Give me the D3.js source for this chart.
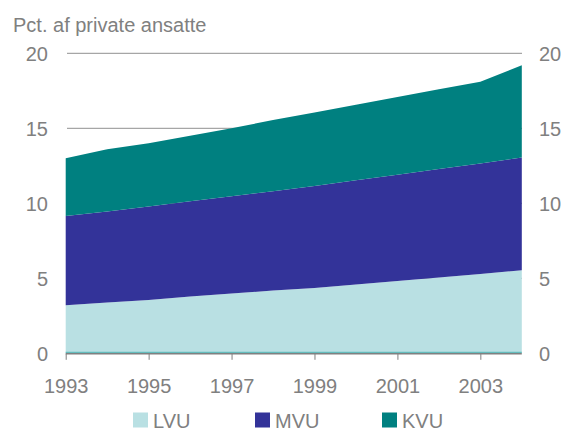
<!DOCTYPE html>
<html><head><meta charset="utf-8">
<script src="https://cdn.jsdelivr.net/npm/d3@7/dist/d3.min.js"></script>
<style>body{margin:0;background:#fff}svg{display:block;font-family:"Liberation Sans",Arial,sans-serif}</style>
</head><body>
<svg id="c" width="563" height="432"></svg>
<script>
const years = [1993,1994,1995,1996,1997,1998,1999,2000,2001,2002,2003,2004];
const LVU = [3.2,3.38,3.55,3.78,3.98,4.18,4.35,4.59,4.82,5.05,5.29,5.53];
const MVU = [5.95,6.07,6.23,6.35,6.49,6.62,6.8,6.94,7.08,7.23,7.36,7.52];
const KVU = [3.85,4.15,4.22,4.37,4.53,4.75,4.9,5.04,5.18,5.32,5.45,6.15];
const seriesNames = ["LVU","MVU","KVU"];
const colors = ["#b9e0e3","#333399","#008080"];
const yTicks = [0,5,10,15,20];
const xTickYears = [1993,1995,1997,1999,2001,2003];
const title = "Pct. af private ansatte";

const svg = d3.select("#c");
const x = d3.scaleLinear().domain([1993,2004]).range([65.7,521.8]);
const y = d3.scaleLinear().domain([0,20]).range([353.3,53.3]);
const grey = "#808080";

svg.append("text").attr("x",13).attr("y",31.5).attr("fill",grey).attr("font-size",20).text(title);

// gridlines
svg.append("g").selectAll("line").data(yTicks.filter(d=>d>0)).join("line")
  .attr("x1",67).attr("x2",522).attr("y1",d=>y(d)).attr("y2",d=>y(d))
  .attr("stroke","#a6a6a6").attr("stroke-width",1.2);

const table = years.map((yr,i)=>({year:yr,LVU:LVU[i],MVU:MVU[i],KVU:KVU[i]}));
const stack = d3.stack().keys(seriesNames)(table);
const area = d3.area().x(d=>x(d.data.year)).y0(d=>y(d[0])).y1(d=>y(d[1]));
svg.append("g").selectAll("path").data(stack).join("path")
  .attr("d",area).attr("fill",(d,i)=>colors[i]);

// baseline teal line
svg.append("line").attr("x1",x(1993)).attr("x2",x(2004)).attr("y1",y(0)-1).attr("y2",y(0)-1)
  .attr("stroke","#4fb3b3").attr("stroke-width",1);

// x axis
const xAxis = d3.axisBottom(x).tickValues(xTickYears).tickFormat(d3.format("d")).tickSize(6).tickPadding(19);
const gx = svg.append("g").attr("transform",`translate(0,${y(0)+0.5})`).call(xAxis);
gx.select(".domain").attr("stroke",grey).attr("stroke-width",1.5).attr("d",`M${x(1993)},0H${x(2004)}`);
gx.selectAll(".tick line").attr("stroke",grey);
gx.selectAll("text").attr("fill",grey).attr("font-size",20).attr("font-family","Liberation Sans, Arial, sans-serif");

// y labels left and right
svg.append("g").selectAll("text").data(yTicks).join("text")
  .attr("x",48).attr("y",d=>y(d)+7.5).attr("text-anchor","end").attr("fill",grey).attr("font-size",20).text(d=>d);
svg.append("g").selectAll("text").data(yTicks).join("text")
  .attr("x",539).attr("y",d=>y(d)+7.5).attr("text-anchor","start").attr("fill",grey).attr("font-size",20).text(d=>d);

// legend
const legX = [133,255,382];
const leg = svg.append("g").selectAll("g").data(seriesNames).join("g")
  .attr("transform",(d,i)=>`translate(${legX[i]},412.5)`);
leg.append("rect").attr("width",15).attr("height",15).attr("fill",(d,i)=>colors[i]);
leg.append("text").attr("x",20).attr("y",15).attr("fill",grey).attr("font-size",20).text(d=>d);
</script>
</body></html>
